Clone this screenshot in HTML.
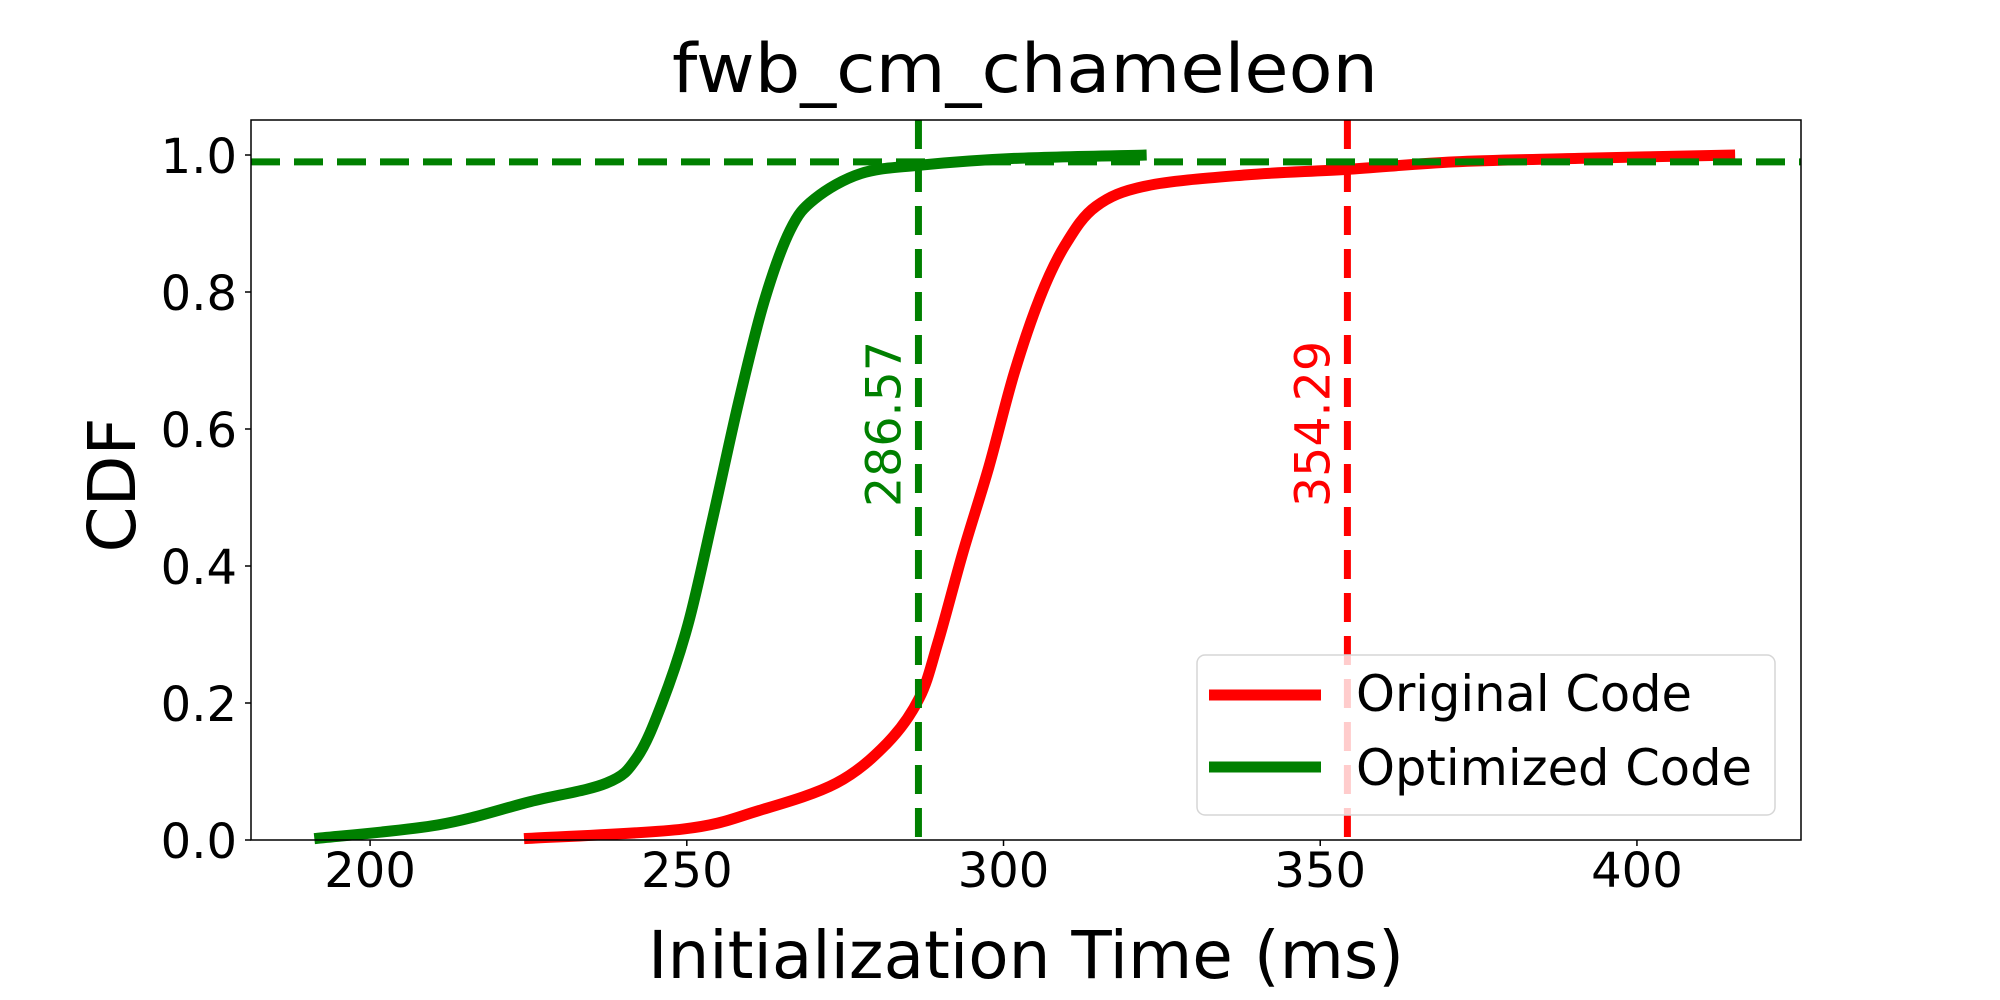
<!DOCTYPE html>
<html><head><meta charset="utf-8"><style>
html,body{margin:0;padding:0;background:#fff}
svg{display:block;font-family:"DejaVu Sans","Liberation Sans",sans-serif}
</style></head><body>
<svg id="chart" width="2000" height="1000" viewBox="0 0 2000 1000">
<text x="1025" y="92" font-size="68" text-anchor="middle" textLength="706" lengthAdjust="spacingAndGlyphs">fwb_cm_chameleon</text>
<g id="plot"></g>
<text x="1026" y="978" font-size="66" text-anchor="middle" textLength="756" lengthAdjust="spacingAndGlyphs">Initialization Time (ms)</text>
<text transform="translate(135,485) rotate(-90)" font-size="66" text-anchor="middle">CDF</text>
</svg>
<script>
const xTicks=[200,250,300,350,400];
const yTicks=[0,0.2,0.4,0.6,0.8,1.0];
const greenX=[191.2,210.7,225.3,237.3,242.1,246.1,250.2,254.1,258.2,262.2,266.3,270.2,277.5,286.7,301.7,322.6];
const greenY=[0.002,0.022,0.056,0.083,0.12,0.2,0.315,0.47,0.64,0.786,0.89,0.936,0.973,0.985,0.995,1.0];
const redX=[224.3,249.4,261.4,273.6,281.6,286.7,289.7,293.6,297.7,301.7,305.8,309.7,314.6,322.6,338.3,354.2,371.1,390.7,415.5];
const redY=[0.002,0.016,0.043,0.083,0.141,0.207,0.29,0.42,0.545,0.682,0.793,0.868,0.925,0.955,0.971,0.979,0.99,0.995,1.0];
const greenP99=286.57, redP99=354.29, hLine=0.99;
const L=251,R=1801,T=120,B=840,xMin=181.2,xMax=425.9,yMin=0,yMax=1.0511;
const sx=v=>L+(v-xMin)/(xMax-xMin)*(R-L);
const sy=v=>B-(v-yMin)/(yMax-yMin)*(B-T);
const NS="http://www.w3.org/2000/svg";
const g=document.getElementById('plot');
function mk(tag,attrs,parent){const e=document.createElementNS(NS,tag);for(const k in attrs)e.setAttribute(k,attrs[k]);(parent||g).appendChild(e);return e;}
function smooth(xs,ys){const p=xs.map((x,i)=>[sx(x),sy(ys[i])]);let d=`M${p[0][0]},${p[0][1]}`;
for(let i=0;i<p.length-1;i++){const p0=p[Math.max(0,i-1)],p1=p[i],p2=p[i+1],p3=p[Math.min(p.length-1,i+2)];
d+=` C${p1[0]+(p2[0]-p0[0])/6},${p1[1]+(p2[1]-p0[1])/6} ${p2[0]-(p3[0]-p1[0])/6},${p2[1]-(p3[1]-p1[1])/6} ${p2[0]},${p2[1]}`;}return d;}
let e;
e=mk('path',{d:smooth(redX,redY),fill:'none',stroke:'#ff0000','stroke-width':11});


e=mk('path',{d:smooth(greenX,greenY),fill:'none',stroke:'#008000','stroke-width':11});


e=mk('line',{x1:sx(greenP99),x2:sx(greenP99),y1:T,y2:B,stroke:'#008000','stroke-width':7,'stroke-dasharray':'29 14'});


e=mk('line',{x1:sx(redP99),x2:sx(redP99),y1:T,y2:B,stroke:'#ff0000','stroke-width':7,'stroke-dasharray':'29 14'});


e=mk('line',{x1:L,x2:R,y1:sy(hLine),y2:sy(hLine),stroke:'#008000','stroke-width':7,'stroke-dasharray':'29 14'});


e=mk('text',{transform:`translate(${sx(greenP99)-18},507) rotate(-90)`,'font-size':48,fill:'#008000',textLength:166,lengthAdjust:'spacingAndGlyphs'});
e.textContent=greenP99.toFixed(2);


e=mk('text',{transform:`translate(${sx(redP99)-18},507) rotate(-90)`,'font-size':48,fill:'#ff0000',textLength:166,lengthAdjust:'spacingAndGlyphs'});
e.textContent=redP99.toFixed(2);


e=mk('rect',{x:L,y:T,width:R-L,height:B-T,fill:'none',stroke:'#000','stroke-width':1.5});


xTicks.forEach(v=>{
 e=mk('line',{x1:sx(v),x2:sx(v),y1:B,y2:B+6,stroke:'#000','stroke-width':1.5});
 
 
 e=mk('text',{x:sx(v),y:887,'font-size':48,'text-anchor':'middle'});e.textContent=v;
 
 
});
yTicks.forEach(v=>{
 e=mk('line',{x1:L-6,x2:L,y1:sy(v),y2:sy(v),stroke:'#000','stroke-width':1.5});
 
 
 e=mk('text',{x:237,y:sy(v)+18,'font-size':48,'text-anchor':'end'});e.textContent=v.toFixed(1);
 
 
});
const lg=mk('g',{});


mk('rect',{x:1197,y:655,width:578,height:160,rx:8,fill:'rgba(255,255,255,0.8)',stroke:'#d6d6d6','stroke-width':1.5},lg);
[['Original Code','#ff0000',695,711,336],['Optimized Code','#008000',767,785,396]].forEach(([t,c,y,by,w])=>{
 e=mk('line',{x1:1209,x2:1321,y1:y,y2:y,stroke:c,'stroke-width':11},lg);
 
 
 e=mk('text',{x:1356,y:by,'font-size':50,textLength:w,lengthAdjust:'spacingAndGlyphs'},lg);e.textContent=t;
 
 
});
</script>
</body></html>
